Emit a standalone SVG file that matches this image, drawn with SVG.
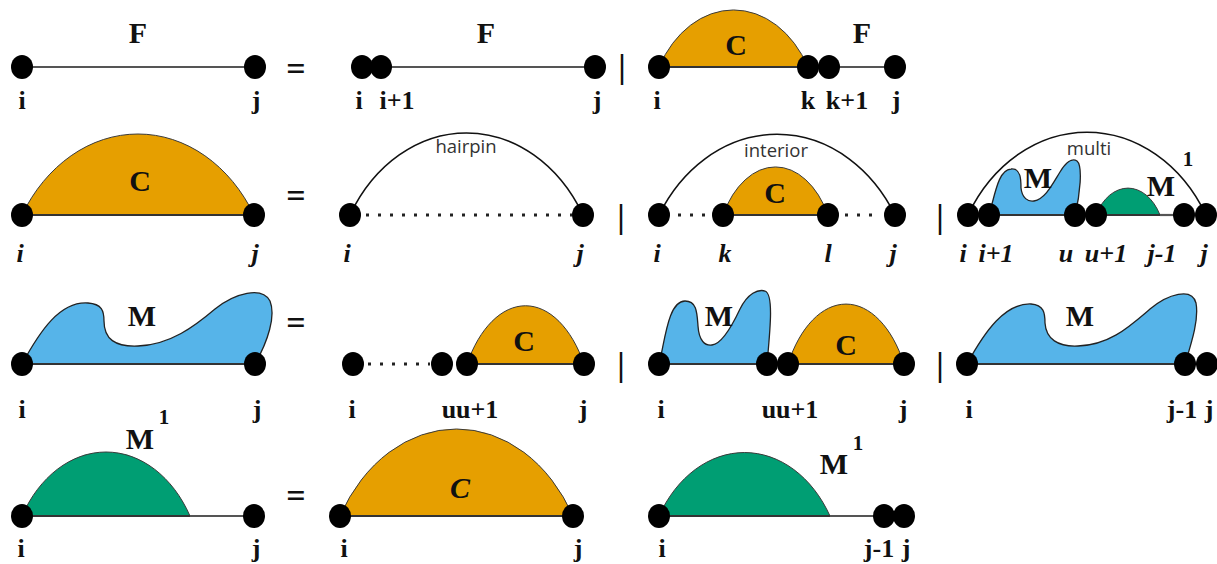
<svg xmlns="http://www.w3.org/2000/svg" width="1217" height="564" viewBox="0 0 1217 564">
<style>
.dot{fill:#000}
.base{stroke:#333;stroke-width:2;fill:none}
.gline{stroke:#555;stroke-width:2.2;fill:none}
.dotted{stroke:#222;stroke-width:3;stroke-dasharray:3 9;fill:none}
.arc{stroke:#111;stroke-width:1.6;fill:none}
.C{fill:#E69F00;stroke:#3a3a3a;stroke-width:1}
.M{fill:#56B4E9;stroke:#222;stroke-width:1.3}
.G{fill:#009E73;stroke:#3a3a3a;stroke-width:1}
.lbl{font-family:"Liberation Serif",serif;font-weight:bold;font-size:26px;fill:#111;text-anchor:middle}
.it{font-style:italic}
.big{font-family:"Liberation Serif",serif;font-weight:bold;font-size:30px;fill:#111;text-anchor:middle}
.sup{font-family:"Liberation Serif",serif;font-weight:bold;font-size:21px;fill:#111;text-anchor:middle}
.word{font-family:"Open Sans",sans-serif;font-size:18.5px;fill:#333;text-anchor:middle}
.op{font-family:"Liberation Serif",serif;font-weight:bold;font-size:34px;fill:#111;text-anchor:middle}
.bar{font-family:"Liberation Serif",serif;font-weight:bold;font-size:34px;fill:#111;text-anchor:middle}
</style>
<rect width="1217" height="564" fill="#fff"/>

<!-- Row 1 -->
<g id="F-lhs">
<line class="gline" x1="22" y1="67" x2="255" y2="67"/>
<ellipse class="dot" cx="22" cy="67" rx="11" ry="12"/>
<ellipse class="dot" cx="255" cy="67" rx="11" ry="12"/>
<text class="big" x="138" y="43">F</text>
<text class="lbl" x="22" y="109">i</text>
<text class="lbl" x="256" y="109">j</text>
</g>
<g id="F-rhs-a">
<line class="gline" x1="381" y1="67" x2="595" y2="67"/>
<ellipse class="dot" cx="362" cy="67" rx="11" ry="12"/>
<ellipse class="dot" cx="381" cy="67" rx="11" ry="12"/>
<ellipse class="dot" cx="595" cy="67" rx="11" ry="12"/>
<text class="big" x="486" y="43">F</text>
<text class="lbl" x="359" y="109">i</text>
<text class="lbl" x="397" y="109">i+1</text>
<text class="lbl" x="597" y="109">j</text>
</g>
<g id="F-rhs-b">
<path class="C" d="M659,67 A86 114 0 0 1 808,67 Z"/>
<line class="base" x1="659" y1="67" x2="808" y2="67"/>
<line class="gline" x1="829" y1="67" x2="895" y2="67"/>
<ellipse class="dot" cx="659" cy="67" rx="11" ry="12"/>
<ellipse class="dot" cx="808" cy="67" rx="11" ry="12"/>
<ellipse class="dot" cx="829" cy="67" rx="11" ry="12"/>
<ellipse class="dot" cx="895" cy="67" rx="11" ry="12"/>
<text class="big" x="736" y="55">C</text>
<text class="big" x="862" y="43">F</text>
<text class="lbl" x="657" y="109">i</text>
<text class="lbl" x="808" y="109">k</text>
<text class="lbl" x="847" y="109">k+1</text>
<text class="lbl" x="896" y="109">j</text>
</g>

<!-- Row 2 -->
<g id="C-lhs">
<path class="C" d="M22,215 A134.5 164 0 0 1 254,215 Z"/>
<line class="base" x1="22" y1="215" x2="254" y2="215"/>
<ellipse class="dot" cx="22" cy="215" rx="11" ry="12"/>
<ellipse class="dot" cx="254" cy="215" rx="11" ry="12"/>
<text class="big" x="140" y="191">C</text>
<text class="lbl it" x="20" y="262">i</text>
<text class="lbl it" x="255" y="262">j</text>
</g>
<g id="C-hairpin">
<path class="arc" d="M350,215 A134.5 164 0 0 1 583,215"/>
<line class="dotted" x1="366" y1="215" x2="572" y2="215"/>
<ellipse class="dot" cx="350" cy="215" rx="11" ry="12"/>
<ellipse class="dot" cx="583" cy="215" rx="11" ry="12"/>
<text class="word" x="466" y="153">hairpin</text>
<text class="lbl it" x="347" y="262">i</text>
<text class="lbl it" x="580" y="262">j</text>
</g>
<g id="C-interior">
<path class="arc" d="M659,215 A137 164 0 0 1 895,215"/>
<line class="dotted" x1="678" y1="215" x2="710" y2="215"/>
<line class="dotted" x1="845" y1="215" x2="880" y2="215"/>
<path class="C" d="M723,215 A60.6 96 0 0 1 828,215 Z"/>
<line class="base" x1="723" y1="215" x2="828" y2="215"/>
<ellipse class="dot" cx="659" cy="215" rx="11" ry="12"/>
<ellipse class="dot" cx="723" cy="215" rx="11" ry="12"/>
<ellipse class="dot" cx="828" cy="215" rx="11" ry="12"/>
<ellipse class="dot" cx="895" cy="215" rx="11" ry="12"/>
<text class="big" x="775" y="203">C</text>
<text class="word" x="776" y="157">interior</text>
<text class="lbl it" x="657" y="262">i</text>
<text class="lbl it" x="725" y="262">k</text>
<text class="lbl it" x="828" y="262">l</text>
<text class="lbl it" x="893" y="262">j</text>
</g>
<g id="C-multi">
<path class="arc" d="M968,215 A137 164 0 0 1 1206,215"/>
<path class="M" d="M989,215 C995,195 998,170 1011,169 C1021,168 1021,180 1021,188 C1022,198 1028,202 1034,201 C1045,199 1052,185 1060,172 C1066,162 1072,158 1077,161 C1083,166 1080,195 1075,215 Z"/>
<path class="G" d="M1096,215 A37 54 0 0 1 1160,215 Z"/>
<line class="base" x1="989" y1="215" x2="1160" y2="215"/>
<line class="gline" x1="1160" y1="215" x2="1184" y2="215"/>
<ellipse class="dot" cx="968" cy="215" rx="11" ry="12"/>
<ellipse class="dot" cx="989" cy="215" rx="11" ry="12"/>
<ellipse class="dot" cx="1075" cy="215" rx="11" ry="12"/>
<ellipse class="dot" cx="1096" cy="215" rx="11" ry="12"/>
<ellipse class="dot" cx="1184" cy="215" rx="11" ry="12"/>
<ellipse class="dot" cx="1206" cy="215" rx="11" ry="12"/>
<text class="word" x="1089" y="155">multi</text>
<text class="big" x="1038" y="188">M</text>
<text class="big" x="1161" y="196">M</text>
<text class="sup" x="1188" y="166">1</text>
<text class="lbl it" x="963" y="262">i</text>
<text class="lbl it" x="996" y="262">i+1</text>
<text class="lbl it" x="1066" y="262">u</text>
<text class="lbl it" x="1106" y="262">u+1</text>
<text class="lbl it" x="1162" y="262">j-1</text>
<text class="lbl it" x="1204" y="262">j</text>
</g>

<!-- Row 3 -->
<g id="M-lhs">
<path class="M" d="M22,364 C40,331 60,301 88,303 C102,304 104,311 104,321 C104,339 115,347 138,346 C170,345 195,326 215,309 C235,293 262,286 270,301 C276,316 268,341 255,364 Z"/>
<line class="base" x1="22" y1="364" x2="255" y2="364"/>
<ellipse class="dot" cx="22" cy="364" rx="11" ry="12"/>
<ellipse class="dot" cx="255" cy="364" rx="11" ry="12"/>
<text class="big" x="142" y="326">M</text>
<text class="lbl" x="22" y="418">i</text>
<text class="lbl" x="257" y="418">j</text>
</g>
<g id="M-rhs-a">
<line class="dotted" x1="368" y1="364" x2="430" y2="364"/>
<path class="C" d="M467,364 A69 124 0 0 1 584,364 Z"/>
<line class="base" x1="467" y1="364" x2="584" y2="364"/>
<ellipse class="dot" cx="353" cy="364" rx="11" ry="12"/>
<ellipse class="dot" cx="442" cy="364" rx="11" ry="12"/>
<ellipse class="dot" cx="467" cy="364" rx="11" ry="12"/>
<ellipse class="dot" cx="584" cy="364" rx="11" ry="12"/>
<text class="big" x="524" y="351">C</text>
<text class="lbl" x="352" y="418">i</text>
<text class="lbl" x="470" y="418">uu+1</text>
<text class="lbl" x="583" y="418">j</text>
</g>
<g id="M-rhs-b">
<path class="M" d="M659,364 C665,341 668,301 685,301 C697,301 697,313 698,326 C699,341 705,346 712,345 C722,344 732,326 740,309 C748,293 758,289 765,291 C774,294 770,331 767,364 Z"/>
<path class="C" d="M788,364 A67 120 0 0 1 904,364 Z"/>
<line class="base" x1="659" y1="364" x2="904" y2="364"/>
<ellipse class="dot" cx="659" cy="364" rx="11" ry="12"/>
<ellipse class="dot" cx="767" cy="364" rx="11" ry="12"/>
<ellipse class="dot" cx="788" cy="364" rx="11" ry="12"/>
<ellipse class="dot" cx="904" cy="364" rx="11" ry="12"/>
<text class="big" x="719" y="326">M</text>
<text class="big" x="846" y="355">C</text>
<text class="lbl" x="661" y="418">i</text>
<text class="lbl" x="790" y="418">uu+1</text>
<text class="lbl" x="903" y="418">j</text>
</g>
<g id="M-rhs-c">
<path class="M" d="M967,364 C985,331 1005,303 1031,304 C1044,305 1045,313 1045,323 C1046,339 1058,347 1078,346 C1110,345 1130,326 1150,309 C1168,294 1192,287 1196,303 C1199,319 1192,341 1185,364 Z"/>
<line class="base" x1="967" y1="364" x2="1207" y2="364"/>
<ellipse class="dot" cx="967" cy="364" rx="11" ry="12"/>
<ellipse class="dot" cx="1185" cy="364" rx="11" ry="12"/>
<ellipse class="dot" cx="1207" cy="364" rx="11" ry="12"/>
<text class="big" x="1080" y="326">M</text>
<text class="lbl" x="969" y="418">i</text>
<text class="lbl" x="1182" y="418">j-1</text>
<text class="lbl" x="1209" y="418">j</text>
</g>

<!-- Row 4 -->
<g id="M1-lhs">
<path class="G" d="M22,516 A97 128 0 0 1 190,516 Z"/>
<line class="base" x1="22" y1="516" x2="190" y2="516"/>
<line class="gline" x1="190" y1="516" x2="254" y2="516"/>
<ellipse class="dot" cx="22" cy="516" rx="11" ry="12"/>
<ellipse class="dot" cx="254" cy="516" rx="11" ry="12"/>
<text class="big" x="140" y="449">M</text>
<text class="sup" x="164" y="424">1</text>
<text class="lbl" x="21" y="557">i</text>
<text class="lbl" x="256" y="557">j</text>
</g>
<g id="M1-rhs-a">
<path class="C" d="M340,516 A134 172 0 0 1 573,516 Z"/>
<line class="base" x1="340" y1="516" x2="573" y2="516"/>
<ellipse class="dot" cx="340" cy="516" rx="11" ry="12"/>
<ellipse class="dot" cx="573" cy="516" rx="11" ry="12"/>
<text class="big it" x="460" y="498">C</text>
<text class="lbl" x="344" y="557">i</text>
<text class="lbl" x="578" y="557">j</text>
</g>
<g id="M1-rhs-b">
<path class="G" d="M659,516 A99 128 0 0 1 830,516 Z"/>
<line class="base" x1="659" y1="516" x2="830" y2="516"/>
<line class="gline" x1="830" y1="516" x2="884" y2="516"/>
<ellipse class="dot" cx="659" cy="516" rx="11" ry="12"/>
<ellipse class="dot" cx="884" cy="516" rx="11" ry="12"/>
<ellipse class="dot" cx="904" cy="516" rx="11" ry="12"/>
<text class="big" x="834" y="474">M</text>
<text class="sup" x="858" y="450">1</text>
<text class="lbl" x="662" y="557">i</text>
<text class="lbl" x="879" y="557">j-1</text>
<text class="lbl" x="906" y="557">j</text>
</g>

<g id="connectors">
<text class="op" x="296" y="80">=</text>
<text class="op" x="296" y="207">=</text>
<text class="op" x="296" y="334">=</text>
<text class="op" x="296" y="507">=</text>
<text class="bar" x="622" y="78">|</text>
<text class="bar" x="621" y="228">|</text>
<text class="bar" x="940" y="228">|</text>
<text class="bar" x="621" y="376">|</text>
<text class="bar" x="940" y="376">|</text>
</g>
</svg>
